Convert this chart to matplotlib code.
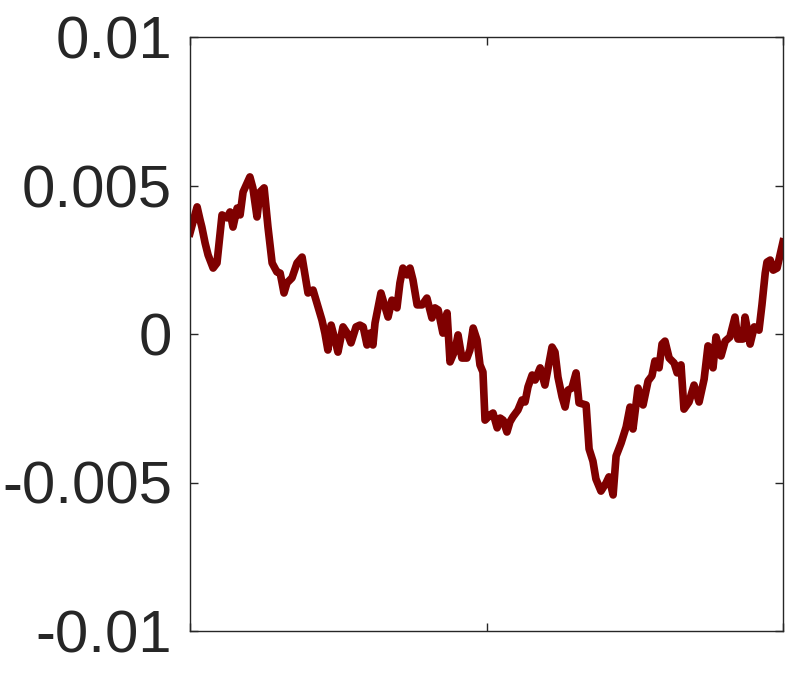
import numpy as np
import matplotlib.pyplot as plt

# sample position (0..200) and value (in units of 1e-3)
x = [0, 2.4, 3.4, 4.0, 5.1, 6.1, 7.8, 9.1, 10.8, 12.5, 13.5, 14.5, 15.9, 16.9, 17.9,
     20.2, 21.2, 22.6, 23.6, 25.0, 26.3, 27.7, 29.3, 30.4, 31.0, 31.7, 32.7, 34.4,
     36.1, 37.8, 38.8, 39.8, 41.5, 43.2, 44.5, 45.5, 46.5, 47.6, 48.9, 49.9, 51.6,
     53.0, 54.3, 56.0, 57.3, 58.4, 59.7, 60.7, 61.7, 62.4, 64.4, 65.1, 66.8, 68.1,
     69.8, 70.8, 71.8, 73.2, 74.2, 75.2, 76.6, 78.3, 79.9, 81.6, 82.6, 83.7, 85.3,
     86.7, 87.7, 89.4, 90.4, 91.7, 93.4, 94.4, 95.5, 96.8, 97.8, 98.8, 99.5, 101.2,
     102.2, 103.6, 104.6, 105.6, 106.9, 107.9, 108.9, 110.6, 112.0, 113.0, 114.0,
     115.4, 116.4, 118.1, 119.7, 122.1, 123.1, 124.1, 125.5, 126.5, 127.5, 128.8,
     130.2, 131.2, 133.6, 134.6, 135.9, 136.9, 138.6, 140.3, 141.3, 142.7, 143.7,
     145.4, 147.1, 148.4, 149.4, 151.1, 152.8, 154.5, 155.8, 156.8, 158.2, 159.2,
     160.2, 161.6, 163.3, 164.3, 165.6, 166.6, 168.3, 170.0, 171.7, 173.4, 174.7,
     176.4, 177.4, 179.1, 180.5, 182.1, 183.8, 184.8, 186.5, 187.2, 188.9, 190.3,
     191.9, 192.9, 194.0, 194.6, 195.7, 196.7, 198.0, 199.0, 200.0]
y_milli = [3.40, 4.28, 3.84, 3.60, 3.06, 2.66, 2.22, 2.39, 4.01, 3.91, 4.11, 3.60, 4.24,
           4.01, 4.78, 5.29, 4.92, 3.94, 4.78, 4.92, 3.60, 2.39, 2.09, 2.05, 1.75, 1.38,
           1.72, 1.89, 2.39, 2.59, 1.99, 1.38, 1.48, 0.91, 0.47, 0.03, -0.54, 0.30,
           -0.20, -0.61, 0.24, 0.03, -0.30, 0.24, 0.30, 0.24, -0.37, 0.03, -0.37, 0.37,
           1.38, 1.14, 0.57, 1.14, 0.88, 1.72, 2.22, 1.99, 2.22, 1.82, 0.98, 0.98, 1.21,
           0.54, 0.88, 0.81, 0.03, 0.71, -0.94, -0.54, -0.03, -0.81, -0.81, -0.54, 0.20,
           -0.20, -1.04, -1.28, -2.90, -2.73, -2.66, -3.16, -2.83, -2.90, -3.30, -2.96,
           -2.79, -2.56, -2.22, -2.29, -1.78, -1.38, -1.55, -1.14, -1.72, -0.44, -0.61,
           -1.45, -2.12, -2.46, -1.89, -1.82, -1.31, -2.32, -2.39, -3.87, -4.28, -4.88,
           -5.29, -5.02, -4.81, -5.42, -4.11, -3.67, -3.13, -2.46, -3.20, -1.82, -2.39,
           -1.58, -1.41, -0.91, -1.14, -0.34, -0.24, -0.81, -0.98, -1.31, -1.04, -2.53,
           -2.29, -1.72, -2.29, -1.52, -0.40, -1.14, -0.10, -0.74, -0.24, -0.10, 0.57,
           -0.17, -0.17, 0.57, -0.34, 0.24, 0.13, 0.98, 2.05, 2.42, 2.49, 2.15, 2.22,
           2.66, 3.10]
yticks = [-0.01, -0.005, 0, 0.005, 0.01]
ytick_labels = ['-0.01', '-0.005', '0', '0.005', '0.01']

y = np.array(y_milli) * 1e-3

plt.rcParams['font.family'] = ['Liberation Sans', 'DejaVu Sans']

fig = plt.figure(figsize=(7.89, 6.73), dpi=100)
ax = fig.add_axes([190 / 789, 42 / 673, 593 / 789, 594 / 673])

ax.plot(x, y, color='#7f0000', linewidth=5.5, solid_joinstyle='round')

ax.set_xlim(0, 200)
ax.set_ylim(-0.01, 0.01)
ax.set_xticks([0, 100, 200])
ax.set_xticklabels([])
ax.set_yticks(yticks)
ax.set_yticklabels(ytick_labels)

ax.tick_params(direction='in', length=6, width=1, colors='#262626',
               top=True, right=True, labelsize=43, pad=13)
for s in ax.spines.values():
    s.set_color('#262626')
    s.set_linewidth(1)

fig.savefig('out.png', dpi=100)
